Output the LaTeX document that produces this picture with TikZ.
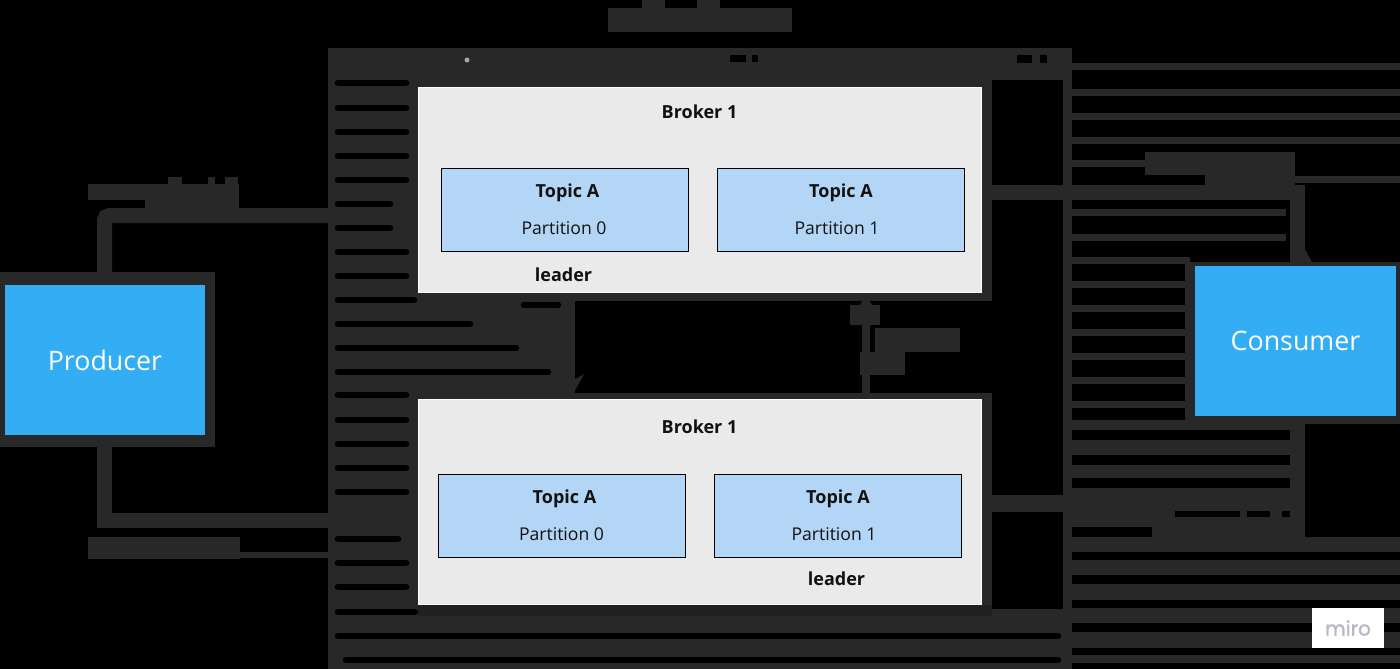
\documentclass[tikz,border=0pt]{standalone}
\usepackage{fontspec}
\setmainfont{Open Sans}
\newfontfamily\mirofont[FakeBold=1.2]{Poppins}
\usetikzlibrary{arrows.meta,positioning}
\definecolor{halo}{HTML}{282828}
\definecolor{halob}{HTML}{202020}
\definecolor{brokerfill}{HTML}{EAEAEA}
\definecolor{topicfill}{HTML}{B3D6F7}
\definecolor{actor}{HTML}{33AEF5}
\definecolor{inkc}{HTML}{111111}
\definecolor{mirotext}{HTML}{B9B6C6}
\newcommand{\topiclines}[3]{\raisebox{1pt}{\hspace*{#1pt}\fontsize{18}{37}\selectfont\textbf{Topic A}}\\\raisebox{1pt}{\hspace*{#2pt}#3}}
\tikzset{
  brokerbox/.style={draw=white,line width=0.8pt,fill=brokerfill,minimum width=563pt,minimum height=205pt,inner sep=0pt},
  topicbox/.style={draw=black,line width=1.4pt,fill=topicfill,minimum width=247pt,minimum height=83pt,inner sep=0pt,align=center,text=inkc,font=\fontsize{17.6}{37}\selectfont},
  actorbox/.style={fill=actor,minimum width=200pt,minimum height=150pt,inner sep=0pt,text=white,font=\fontsize{26.8}{30}\selectfont},
  boldlabel/.style={text=inkc,font=\fontsize{18}{20}\selectfont\bfseries,inner sep=0pt},
  conn/.style={draw=halo,line width=15pt},
  connhead/.style={draw=halo,line width=8pt,-{Stealth[length=24pt,width=26pt]}},
  blob/.style={fill=halo},
  gap/.style={fill=black},
  bar/.style={draw=black,line width=6.5pt,line cap=round},
  rule/.style={draw=halo,line width=7pt},
}
\begin{document}
\begin{tikzpicture}[x=1pt,y=-1pt]
\fill[black] (0,0) rectangle (1400,669);
\useasboundingbox (0,0) rectangle (1400,669);
% dark cluster field
\fill[halo] (328,48) rectangle (1072,669);
\fill[gap] (992,80) rectangle (1063,495);
\fill[gap] (992,512) rectangle (1063,609);
\fill[gap] (575,301) rectangle (1063,393);
\fill[halob] (418,605) rectangle (992,616);
% marks in the top band
\fill[black] (730,55) rectangle (746,62);
\fill[black] (752,55) rectangle (758,62);
\fill[black] (1017,55) rectangle (1032,63);
\fill[black] (1040,55) rectangle (1047,63);
\fill[gray!70] (467,60) circle (2.5pt);
% left column stripes
\foreach \yy in {83,108,132,156,180,252,276,395,420,444,468,492,563,587}
  \draw[bar] (338,\yy) -- (406,\yy);
\foreach \yy in {204,228} \draw[bar] (338,\yy) -- (390,\yy);
\draw[bar] (338,539) -- (398,539);
\draw[bar] (338,300) -- (414,300);
\draw[bar] (338,324) -- (470,324);
\draw[bar] (338,348) -- (516,348);
\draw[bar] (338,372) -- (548,372);
\draw[bar] (524,305) -- (558,305);
\draw[bar] (338,612) -- (415,612);
\draw[bar] (338,636) -- (1058,636);
\draw[bar] (346,660) -- (1058,660);
% right side rules
\fill[halo] (1063,62) rectangle (1072,669);
\foreach \yy in {67,92,116,140} \draw[rule] (1072,\yy) -- (1400,\yy);
\draw[rule] (1072,163) -- (1146,163);
\draw[rule] (1295,179) -- (1400,179);
\foreach \yy in {212,237} \draw[rule] (1072,\yy) -- (1286,\yy);
\foreach \yy in {260,284,308,332,356,380,404} \draw[rule] (1072,\yy) -- (1190,\yy);
\fill[halo] (1072,420) rectangle (1305,430);
\fill[halo] (1072,440) rectangle (1305,455);
\fill[halo] (1072,465) rectangle (1305,478);
\fill[halo] (1072,488) rectangle (1305,552);
\fill[gap] (1072,527) rectangle (1152,537);
\fill[gap] (1175,511) rectangle (1240,517);
\fill[gap] (1247,511) rectangle (1270,517);
\fill[gap] (1282,511) rectangle (1290,517);
\fill[halo] (1290,420) rectangle (1305,540);
\fill[halo] (1072,537) rectangle (1400,552);
\fill[halo] (1072,560) rectangle (1400,575);
\fill[halo] (1072,584) rectangle (1400,600);
\fill[halo] (1072,608) rectangle (1400,623);
\fill[halo] (1072,632) rectangle (1400,648);
\fill[halo] (1072,655) rectangle (1400,663);
% text halos that carry no readable text
\fill[blob] (608,8) rectangle (792,32);
\fill[blob] (642,0) rectangle (665,8);
\fill[blob] (697,0) rectangle (720,8);
\fill[blob] (88,184) rectangle (239,200);
\fill[blob] (145,200) rectangle (239,208);
\fill[blob] (168,177) rectangle (182,184);
\fill[blob] (208,177) rectangle (215,184);
\fill[blob] (225,177) rectangle (238,184);
\fill[blob] (88,537) rectangle (240,559);
\fill[blob] (1145,152) rectangle (1295,175);
\fill[blob] (1205,175) rectangle (1295,185);
\fill[blob] (850,305) rectangle (880,325);
\fill[blob] (875,328) rectangle (960,352);
\fill[blob] (860,352) rectangle (905,375);
\fill[blob] (490,318) rectangle (550,342);
% actor halos
\fill[halo] (0,272) rectangle (215,447);
\fill[halo] (1185,262) rectangle (1400,424);
% nodes
\node[brokerbox] (brokerA) at (700,190) {};
\node[brokerbox] (brokerB) at (700,502) {};
\node[boldlabel] (brokerAname) at (699.5,112) {Broker 1};
\node[boldlabel] (brokerBname) at (699.5,427) {Broker 1};
\node[topicbox] (tA0) at (565,210) {\topiclines{5}{-2}{Partition 0}};
\node[topicbox] (tA1) at (841,210) {\topiclines{0}{-8}{Partition 1}};
\node[topicbox] (tB0) at (562,516) {\topiclines{5}{-1}{Partition 0}};
\node[topicbox] (tB1) at (838,516) {\topiclines{0}{-8}{Partition 1}};
\node[boldlabel] (leadA) at (563.5,275) {leader};
\node[boldlabel] (leadB) at (836.5,579) {leader};
\node[actorbox] (producer) at (105,360) {Producer};
\node[actorbox,minimum width=201pt] (consumer) at (1295.5,341) {Consumer};
\coordinate (clusterTop) at (330,215.5);
\coordinate (clusterBot) at (330,520.5);
\coordinate (clusterLabel) at (330,555);
\coordinate (prodLabel) at (240,555);
% connectors
\draw[conn,rounded corners=5pt] (104.5,272) |- (clusterTop);
\draw[conn] (104.5,447) |- (clusterBot);
\draw[draw=halo,line width=6pt] (prodLabel) -- (clusterLabel);
\draw[conn] (brokerA.east |- 0,192.5) -- (1297,192.5) -- (1297,262);
\fill[blob] (1300,240) -- (1312,262) -- (1290,262) -- cycle;
\draw[conn] (brokerB.east |- 0,503.5) -- (1297,503.5) -- (1297,424);
\draw[connhead] (571,294) -- (571,398);
\draw[connhead] (866,398) -- (866,294);
% miro badge
\node[fill=white,minimum width=72pt,minimum height=40pt,inner sep=0pt,text=mirotext,font=\fontsize{20}{22}\selectfont\mirofont] (miro) at (1348,628) {miro};
\end{tikzpicture}
\end{document}
